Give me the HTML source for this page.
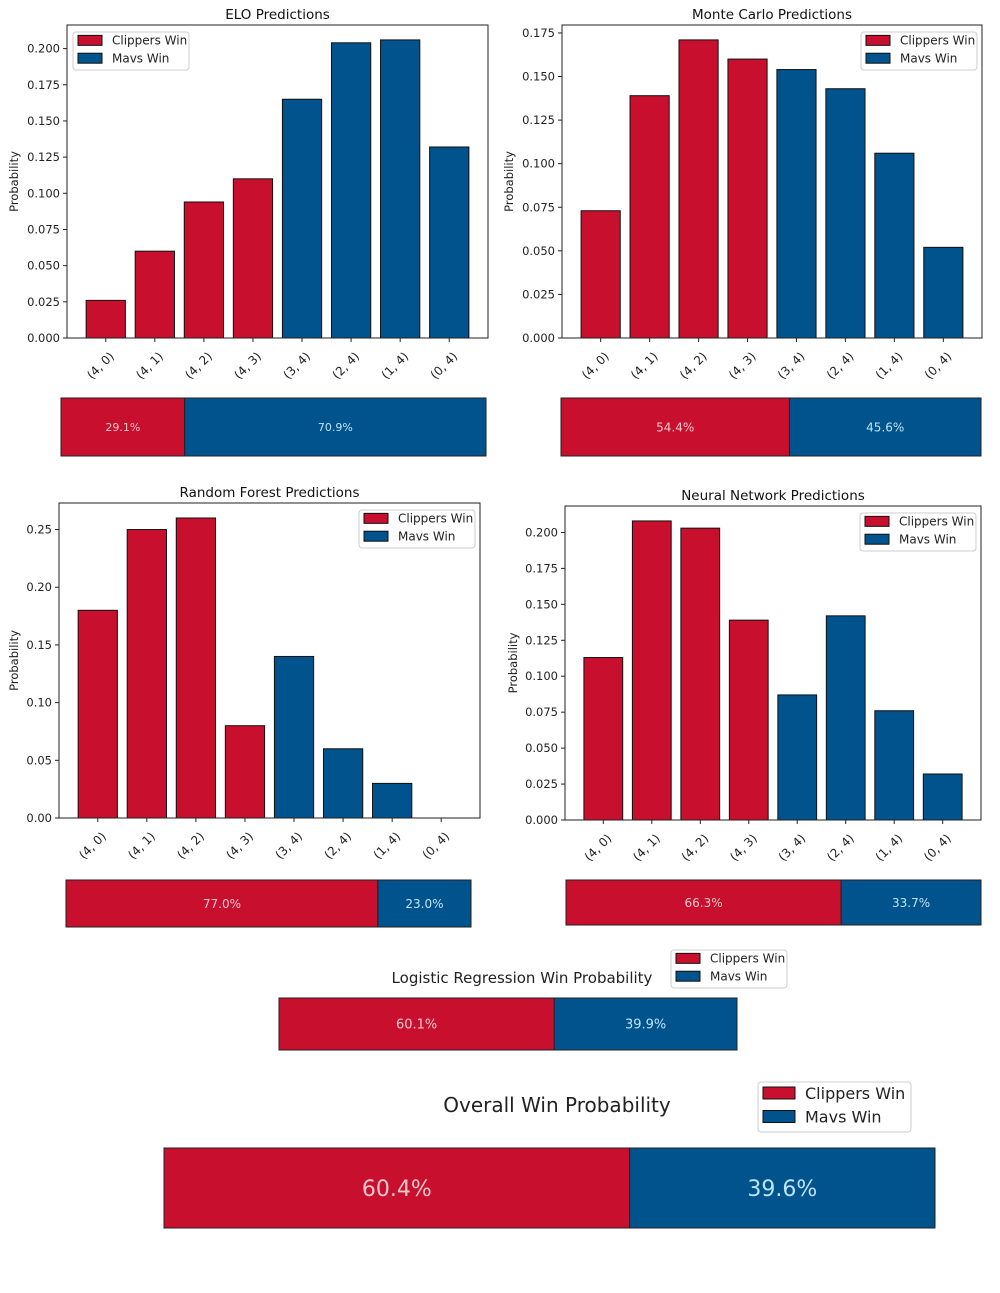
<!DOCTYPE html>
<html><head><meta charset="utf-8">
<style>
html,body{margin:0;padding:0;background:#fff;}
svg{display:block;font-family:"DejaVu Sans","Liberation Sans",sans-serif;}
</style></head>
<body>
<svg id="root" width="1000" height="1293" viewBox="0 0 1000 1293" xmlns="http://www.w3.org/2000/svg"></svg>
<script>
const categories = ["(4, 0)","(4, 1)","(4, 2)","(4, 3)","(3, 4)","(2, 4)","(1, 4)","(0, 4)"];
const seriesColors = ["c","c","c","c","m","m","m","m"];
const eloValues = [0.026,0.060,0.094,0.110,0.165,0.204,0.206,0.132];
const mcValues = [0.073,0.139,0.171,0.160,0.154,0.143,0.106,0.052];
const rfValues = [0.18,0.25,0.26,0.08,0.14,0.06,0.03,0.0];
const nnValues = [0.113,0.208,0.203,0.139,0.087,0.142,0.076,0.032];
const eloTicks = [0,0.025,0.05,0.075,0.1,0.125,0.15,0.175,0.2];
const mcTicks = [0,0.025,0.05,0.075,0.1,0.125,0.15,0.175];
const rfTicks = [0,0.05,0.1,0.15,0.2,0.25];
const nnTicks = [0,0.025,0.05,0.075,0.1,0.125,0.15,0.175,0.2];
const eloSplit = [29.1,70.9];
const mcSplit = [54.4,45.6];
const rfSplit = [77.0,23.0];
const nnSplit = [66.3,33.7];
const lrSplit = [60.1,39.9];
const overallSplit = [60.4,39.6];

const RED="#c8102e", BLUE="#00538c";
const NS="http://www.w3.org/2000/svg";
const root=document.getElementById('root');
function mk(tag,attrs,parent,text){const e=document.createElementNS(NS,tag);for(const k in attrs)e.setAttribute(k,attrs[k]);if(text!==undefined)e.textContent=text;(parent||root).appendChild(e);return e;}

function legend(g,x,y,w,h,fs,sw,sh){
  const lg=mk('g',{},g);
  
  
  mk('rect',{x:x,y:y,width:w,height:h,rx:3,fill:'#fff',stroke:'#ccc'},lg);
  const r1=mk('rect',{x:x+5,y:y+h*0.22-sh/2,width:sw,height:sh,fill:RED,stroke:'#111','stroke-width':1},lg);
  
  
  const t1=mk('text',{x:x+sw+15,y:y+h*0.22+fs*0.36,'font-size':fs,fill:'#222'},lg,'Clippers Win');
  
  
  const r2=mk('rect',{x:x+5,y:y+h*0.69-sh/2,width:sw,height:sh,fill:BLUE,stroke:'#111','stroke-width':1},lg);
  
  
  const t2=mk('text',{x:x+sw+15,y:y+h*0.69+fs*0.36,'font-size':fs,fill:'#222'},lg,'Mavs Win');
  
  
}

function barChart(name,title,vals,ticks,dec,L,T,R,B,legendRight,yTitleX){
  const g=mk('g',{});
  
  
  const ymax=Math.max(...vals)*1.05;
  const sx=i=>L+(i+0.79)/8.58*(R-L);
  const sy=v=>B-v/ymax*(B-T);
  const bw=0.8/8.58*(R-L);
  const tt=mk('text',{x:(L+R)/2,y:T-6,'text-anchor':'middle','font-size':13.5,fill:'#111'},g,title);
  
  
  vals.forEach((v,i)=>{
    const r=mk('rect',{x:sx(i)-bw/2,y:sy(v),width:bw,height:B-sy(v),fill:seriesColors[i]==='c'?RED:BLUE,stroke:'#111','stroke-width':1},g);
    
    
    mk('line',{x1:sx(i),x2:sx(i),y1:B,y2:B+4,stroke:'#222'},g);
    const xl=mk('text',{transform:`translate(${sx(i)+9},${B+19}) rotate(-45)`,'text-anchor':'end','font-size':12,fill:'#222'},g,categories[i]);
    
    
  });
  ticks.forEach(t=>{
    mk('line',{x1:L-4,x2:L,y1:sy(t),y2:sy(t),stroke:'#222'},g);
    const yl=mk('text',{x:L-7,y:sy(t)+4,'text-anchor':'end','font-size':11.5,fill:'#222'},g,t.toFixed(dec));
    
    
  });
  mk('rect',{x:L,y:T,width:R-L,height:B-T,fill:'none',stroke:'#222','stroke-width':1},g);
  const ya=mk('text',{transform:`translate(${yTitleX},${(T+B)/2}) rotate(-90)`,'text-anchor':'middle','font-size':11.5,fill:'#222'},g,'Probability');
  
  
  if(legendRight) legend(g,R-121,T+7,116,38,12,24,10);
  else legend(g,L+6,T+7,116,38,12,24,10);
}

function splitBar(name,split,x,y,w,h,fs){
  const g=mk('g',{});
  
  
  const total=split[0]+split[1];
  const wc=split[0]/total*w;
  const r1=mk('rect',{x:x,y:y,width:wc,height:h,fill:RED,stroke:'#222','stroke-width':1},g);
  
  
  const r2=mk('rect',{x:x+wc,y:y,width:w-wc,height:h,fill:BLUE,stroke:'#222','stroke-width':1},g);
  
  
  const t1=mk('text',{x:x+wc/2,y:y+h/2+fs*0.36,'text-anchor':'middle','font-size':fs,fill:'#f3c6cc'},g,split[0].toFixed(1)+'%');
  
  
  const t2=mk('text',{x:x+wc+(w-wc)/2,y:y+h/2+fs*0.36,'text-anchor':'middle','font-size':fs,fill:'#bfe3f5'},g,split[1].toFixed(1)+'%');
  
  
}

barChart('elo-chart','ELO Predictions',eloValues,eloTicks,3,67,25,488,338,false,18);
barChart('monte-carlo-chart','Monte Carlo Predictions',mcValues,mcTicks,3,562,25,982,338,true,513);
barChart('random-forest-chart','Random Forest Predictions',rfValues,rfTicks,2,59,503,480,818,true,18);
barChart('neural-network-chart','Neural Network Predictions',nnValues,nnTicks,3,565,506,981,820,true,517);

splitBar('elo-win-split',eloSplit,61,398,425,58,11);
splitBar('monte-carlo-win-split',mcSplit,561,398,420,58,12);
splitBar('random-forest-win-split',rfSplit,66,880,405,47,12);
splitBar('neural-network-win-split',nnSplit,566,880,415,45,12);

const lt=mk('text',{x:522,y:983,'text-anchor':'middle','font-size':15,fill:'#222'},root,'Logistic Regression Win Probability');


legend(root,671,950,116,38,12,24,10);
splitBar('logistic-regression-win-split',lrSplit,279,998,458,52,13);

const ot=mk('text',{x:557,y:1112,'text-anchor':'middle','font-size':20,fill:'#222'},root,'Overall Win Probability');


legend(root,758,1082,153,50,16,32,12);
splitBar('overall-win-split',overallSplit,164,1148,771,80,22);
</script>
</body></html>
